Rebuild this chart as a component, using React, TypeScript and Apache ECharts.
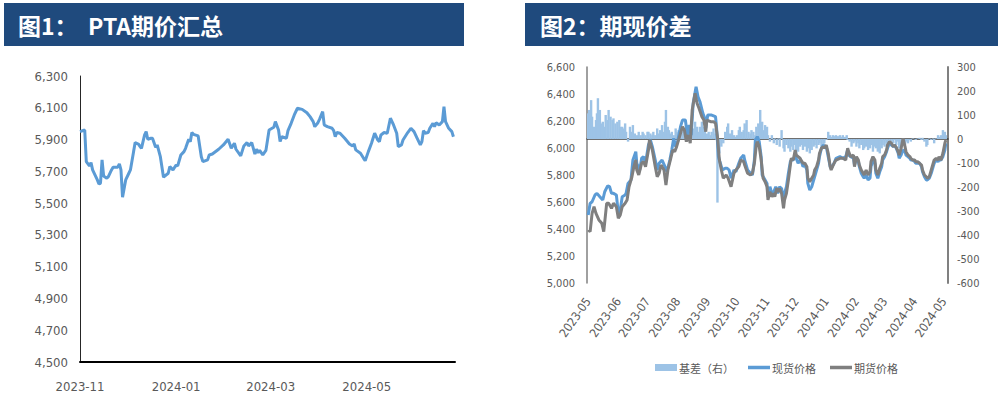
import React, { useEffect, useRef } from "react";
import * as echarts from "echarts";

// ---------- data ----------
// 图1：PTA期价汇总 (left panel)
const ptaFutures: [string, number][] = [
  ['2023-11-01',5950],['2023-11-04',5960],['2023-11-05',5761],['2023-11-07',5734],['2023-11-08',5755],['2023-11-09',5709],['2023-11-12',5646],['2023-11-13',5621],['2023-11-14',5625],['2023-11-15',5772],['2023-11-16',5671],['2023-11-18',5657],['2023-11-19',5667],['2023-11-21',5709],['2023-11-22',5726],['2023-11-25',5726],['2023-11-26',5747],['2023-11-27',5709],['2023-11-28',5537],['2023-11-30',5646],
  ['2023-12-02',5688],['2023-12-03',5709],['2023-12-05',5824],['2023-12-06',5881],['2023-12-08',5872],['2023-12-10',5845],['2023-12-12',5929],['2023-12-13',5950],['2023-12-14',5902],['2023-12-16',5908],['2023-12-17',5908],['2023-12-19',5851],['2023-12-20',5866],['2023-12-22',5792],['2023-12-24',5663],['2023-12-27',5688],['2023-12-28',5730],['2023-12-30',5709],
  ['2024-01-01',5740],['2024-01-02',5734],['2024-01-04',5803],['2024-01-06',5824],['2024-01-07',5845],['2024-01-09',5902],['2024-01-10',5887],['2024-01-11',5944],['2024-01-12',5933],['2024-01-15',5923],['2024-01-17',5792],['2024-01-18',5761],['2024-01-21',5772],['2024-01-22',5803],['2024-01-24',5809],['2024-01-28',5839],['2024-01-31',5866],
  ['2024-02-03',5902],['2024-02-05',5845],['2024-02-07',5877],['2024-02-08',5839],['2024-02-11',5797],['2024-02-13',5860],['2024-02-15',5881],['2024-02-16',5860],['2024-02-18',5881],['2024-02-20',5809],['2024-02-21',5839],['2024-02-22',5818],['2024-02-23',5832],['2024-02-25',5803],['2024-02-27',5832],['2024-02-29',5960],
  ['2024-03-03',5977],['2024-03-04',6013],['2024-03-06',5960],['2024-03-07',5887],['2024-03-08',5918],['2024-03-11',5908],['2024-03-12',5956],['2024-03-14',6002],['2024-03-16',6055],['2024-03-18',6097],['2024-03-21',6090],['2024-03-24',6069],['2024-03-26',6044],['2024-03-28',6013],['2024-03-29',5981],['2024-03-31',6006],
  ['2024-04-01',6027],['2024-04-03',6076],['2024-04-04',5992],['2024-04-06',5981],['2024-04-09',5971],['2024-04-10',5956],['2024-04-11',5918],['2024-04-12',5944],['2024-04-14',5940],['2024-04-17',5908],['2024-04-20',5872],['2024-04-22',5860],['2024-04-23',5872],['2024-04-24',5835],['2024-04-27',5814],['2024-04-29',5782],['2024-04-30',5767],
  ['2024-05-02',5824],['2024-05-04',5877],['2024-05-06',5940],['2024-05-08',5897],['2024-05-09',5887],['2024-05-10',5929],['2024-05-12',5944],['2024-05-14',5940],['2024-05-16',6034],['2024-05-18',5992],['2024-05-20',5940],['2024-05-21',5856],['2024-05-23',5866],['2024-05-24',5897],['2024-05-27',5944],['2024-05-29',5971],['2024-05-31',5950],
  ['2024-06-02',5908],['2024-06-04',5866],['2024-06-05',5887],['2024-06-06',5956],['2024-06-07',5940],['2024-06-09',5944],['2024-06-10',5971],['2024-06-12',6002],['2024-06-13',5981],['2024-06-14',6006],['2024-06-16',5992],['2024-06-18',6013],['2024-06-19',6107],['2024-06-20',6013],['2024-06-22',5971],['2024-06-24',5950],['2024-06-25',5918]
];

// 图2：期现价差 (right panel) — 现货价格
const spotPrice: [string, number][] = [
  ['2023-05-01',5504],['2023-05-03',5590],['2023-05-05',5602],['2023-05-08',5652],['2023-05-10',5664],['2023-05-13',5639],['2023-05-16',5615],['2023-05-18',5676],['2023-05-21',5719],['2023-05-23',5713],['2023-05-25',5664],['2023-05-27',5664],['2023-05-30',5652],
  ['2023-06-01',5516],['2023-06-03',5541],['2023-06-05',5639],['2023-06-08',5652],['2023-06-09',5664],['2023-06-11',5738],['2023-06-14',5763],['2023-06-16',5911],['2023-06-19',5973],['2023-06-20',5887],['2023-06-23',5837],['2023-06-25',5924],['2023-06-27',5936],['2023-06-29',5887],
  ['2023-07-02',6022],['2023-07-04',6059],['2023-07-06',6010],['2023-07-09',5911],['2023-07-11',5837],['2023-07-13',5887],['2023-07-16',5911],['2023-07-19',5862],['2023-07-21',5824],['2023-07-24',5911],['2023-07-26',5985],['2023-07-28',6072],['2023-07-30',6010],
  ['2023-08-01',6047],['2023-08-04',6158],['2023-08-06',6207],['2023-08-09',6207],['2023-08-11',6096],['2023-08-13',6170],['2023-08-15',6096],['2023-08-17',6331],['2023-08-20',6454],['2023-08-22',6380],['2023-08-24',6343],['2023-08-27',6257],['2023-08-29',6220],['2023-08-30',6146],
  ['2023-09-01',6244],['2023-09-05',6244],['2023-09-09',6232],['2023-09-10',6158],['2023-09-12',5936],['2023-09-14',5887],['2023-09-16',5837],['2023-09-19',5850],['2023-09-21',5850],['2023-09-23',5837],['2023-09-25',5776],['2023-09-28',5837],['2023-09-30',5824],
  ['2023-10-03',5887],['2023-10-05',5924],['2023-10-08',5948],['2023-10-09',5911],['2023-10-12',5837],['2023-10-15',5813],['2023-10-17',5800],['2023-10-19',5911],['2023-10-20',6059],['2023-10-22',6084],['2023-10-24',6047],['2023-10-26',5936],['2023-10-27',5800],['2023-10-29',5776],
  ['2023-11-01',5738],['2023-11-02',5639],['2023-11-04',5713],['2023-11-06',5664],['2023-11-08',5676],['2023-11-10',5713],['2023-11-12',5664],['2023-11-14',5713],['2023-11-16',5700],['2023-11-18',5615],['2023-11-19',5664],['2023-11-21',5713],['2023-11-23',5813],['2023-11-25',5899],['2023-11-26',5911],['2023-11-28',5911],['2023-11-30',5948],
  ['2023-12-01',5924],['2023-12-03',5887],['2023-12-05',5911],['2023-12-07',5887],['2023-12-08',5862],['2023-12-10',5874],['2023-12-12',5837],['2023-12-13',5738],['2023-12-15',5689],['2023-12-17',5713],['2023-12-19',5763],['2023-12-20',5787],['2023-12-22',5837],['2023-12-24',5887],['2023-12-25',5936],['2023-12-27',5998],['2023-12-29',6022],['2023-12-30',6010],
  ['2024-01-01',6010],['2024-01-03',5936],['2024-01-05',5862],['2024-01-06',5850],['2024-01-09',5887],['2024-01-11',5924],['2024-01-15',5936],['2024-01-18',5924],['2024-01-21',5936],['2024-01-23',5985],['2024-01-24',5948],['2024-01-26',5936],['2024-01-29',5924],['2024-01-30',5874],
  ['2024-02-01',5924],['2024-02-03',5899],['2024-02-04',5862],['2024-02-06',5813],['2024-02-08',5787],['2024-02-09',5776],['2024-02-11',5800],['2024-02-13',5763],['2024-02-15',5776],['2024-02-16',5862],['2024-02-18',5911],['2024-02-20',5887],['2024-02-21',5813],['2024-02-23',5776],['2024-02-25',5824],['2024-02-27',5862],['2024-02-28',5911],
  ['2024-03-01',5936],['2024-03-03',5973],['2024-03-04',5998],['2024-03-06',6035],['2024-03-08',6022],['2024-03-10',6010],['2024-03-11',6022],['2024-03-13',5998],['2024-03-15',5961],['2024-03-16',5924],['2024-03-18',5948],['2024-03-20',5985],['2024-03-22',5973],['2024-03-23',5948],['2024-03-25',5936],['2024-03-27',5924],['2024-03-28',5911],['2024-03-30',5911],
  ['2024-04-01',5899],['2024-04-02',5887],['2024-04-04',5887],['2024-04-06',5887],['2024-04-08',5862],['2024-04-09',5824],['2024-04-11',5787],['2024-04-13',5763],['2024-04-14',5763],['2024-04-16',5776],['2024-04-18',5813],['2024-04-20',5862],['2024-04-21',5887],['2024-04-23',5911],['2024-04-25',5899],['2024-04-26',5911],['2024-04-28',5911],['2024-04-30',5936],
  ['2024-05-02',5985],['2024-05-03',6035]
];

// 期货价格
const futuresPrice: [string, number][] = [
  ['2023-05-01',5393],['2023-05-03',5380],['2023-05-05',5516],['2023-05-07',5565],['2023-05-09',5516],['2023-05-12',5467],['2023-05-15',5442],['2023-05-17',5380],['2023-05-20',5590],['2023-05-22',5590],['2023-05-25',5553],['2023-05-27',5590],['2023-05-30',5565],
  ['2023-06-01',5479],['2023-06-03',5504],['2023-06-05',5565],['2023-06-08',5590],['2023-06-10',5615],['2023-06-12',5713],['2023-06-15',5787],['2023-06-17',5862],['2023-06-19',5911],['2023-06-20',5837],['2023-06-22',5800],['2023-06-25',5887],['2023-06-27',5899],['2023-06-29',5862],
  ['2023-07-02',5985],['2023-07-03',6059],['2023-07-06',5985],['2023-07-09',5862],['2023-07-11',5787],['2023-07-13',5813],['2023-07-15',5874],['2023-07-18',5837],['2023-07-20',5726],['2023-07-22',5837],['2023-07-25',5924],['2023-07-27',5985],['2023-07-29',5973],['2023-07-31',6010],
  ['2023-08-03',6084],['2023-08-06',6158],['2023-08-08',6133],['2023-08-10',6047],['2023-08-12',6096],['2023-08-14',6035],['2023-08-16',6281],['2023-08-19',6405],['2023-08-21',6331],['2023-08-23',6294],['2023-08-26',6232],['2023-08-28',6207],['2023-08-30',6121],['2023-08-31',6207],
  ['2023-09-04',6195],['2023-09-07',6195],['2023-09-09',6183],['2023-09-11',6084],['2023-09-13',5911],['2023-09-15',5837],['2023-09-17',5776],['2023-09-20',5800],['2023-09-22',5776],['2023-09-25',5713],['2023-09-28',5813],['2023-09-30',5837],
  ['2023-10-03',5862],['2023-10-05',5911],['2023-10-08',5899],['2023-10-09',5874],['2023-10-12',5813],['2023-10-15',5800],['2023-10-17',5813],['2023-10-19',5887],['2023-10-21',6022],['2023-10-22',6047],['2023-10-24',6010],['2023-10-26',5911],['2023-10-28',5776],['2023-10-30',5750],
  ['2023-11-01',5713],['2023-11-02',5615],['2023-11-04',5676],['2023-11-06',5639],['2023-11-08',5664],['2023-11-09',5639],['2023-11-11',5701],['2023-11-13',5676],['2023-11-14',5701],['2023-11-16',5664],['2023-11-18',5553],['2023-11-19',5615],['2023-11-21',5664],['2023-11-23',5763],['2023-11-25',5874],['2023-11-26',5924],['2023-11-28',5911],['2023-11-30',5985],
  ['2023-12-01',5948],['2023-12-03',5936],['2023-12-05',5924],['2023-12-07',5899],['2023-12-08',5887],['2023-12-10',5887],['2023-12-12',5862],['2023-12-13',5776],['2023-12-15',5750],['2023-12-17',5776],['2023-12-19',5800],['2023-12-20',5837],['2023-12-22',5862],['2023-12-24',5911],['2023-12-25',5961],['2023-12-27',5998],['2023-12-29',6010],['2023-12-30',5998],
  ['2024-01-01',6022],['2024-01-03',5961],['2024-01-05',5862],['2024-01-06',5837],['2024-01-09',5887],['2024-01-11',5911],['2024-01-15',5924],['2024-01-18',5924],['2024-01-21',5911],['2024-01-23',5998],['2024-01-24',5973],['2024-01-26',5936],['2024-01-29',5948],['2024-01-30',5862],
  ['2024-02-01',5936],['2024-02-03',5911],['2024-02-04',5874],['2024-02-06',5837],['2024-02-08',5813],['2024-02-09',5800],['2024-02-11',5837],['2024-02-13',5800],['2024-02-15',5824],['2024-02-16',5899],['2024-02-18',5936],['2024-02-20',5911],['2024-02-21',5837],['2024-02-23',5800],['2024-02-25',5850],['2024-02-27',5887],['2024-02-28',5936],
  ['2024-03-01',5948],['2024-03-03',5985],['2024-03-04',6022],['2024-03-06',6047],['2024-03-08',6035],['2024-03-10',6010],['2024-03-11',6022],['2024-03-13',6005],['2024-03-15',5973],['2024-03-16',5948],['2024-03-18',5998],['2024-03-20',6072],['2024-03-22',6010],['2024-03-23',5973],['2024-03-25',5948],['2024-03-27',5936],['2024-03-28',5924],['2024-03-30',5911],
  ['2024-04-01',5911],['2024-04-02',5899],['2024-04-04',5899],['2024-04-06',5887],['2024-04-08',5874],['2024-04-09',5837],['2024-04-11',5800],['2024-04-13',5787],['2024-04-14',5776],['2024-04-16',5787],['2024-04-18',5837],['2024-04-20',5887],['2024-04-21',5911],['2024-04-23',5924],['2024-04-25',5911],['2024-04-26',5936],['2024-04-28',5911],['2024-04-30',5961],
  ['2024-05-02',6035],['2024-05-03',6059]
];

// 基差（右）
const basis: [string, number][] = [
  ['2023-05-01',107],['2023-05-02',121],['2023-05-04',162],['2023-05-05',93],['2023-05-07',51],['2023-05-09',79],['2023-05-10',107],['2023-05-11',170],['2023-05-13',121],['2023-05-15',65],['2023-05-16',72],['2023-05-18',51],['2023-05-19',100],['2023-05-21',79],['2023-05-22',121],['2023-05-24',93],['2023-05-26',79],['2023-05-27',86],['2023-05-29',65],['2023-05-31',72],
  ['2023-06-02',79],['2023-06-03',51],['2023-06-05',51],['2023-06-07',44],['2023-06-08',65],['2023-06-09',30],['2023-06-11',-11],['2023-06-13',51],['2023-06-15',30],['2023-06-16',58],['2023-06-18',23],['2023-06-20',16],['2023-06-22',30],['2023-06-24',16],['2023-06-26',30],['2023-06-27',23],['2023-06-29',16],
  ['2023-07-01',30],['2023-07-02',30],['2023-07-04',23],['2023-07-06',16],['2023-07-07',30],['2023-07-09',16],['2023-07-11',44],['2023-07-13',23],['2023-07-14',37],['2023-07-16',58],['2023-07-18',30],['2023-07-19',72],['2023-07-20',121],['2023-07-22',51],['2023-07-23',37],['2023-07-25',23],['2023-07-26',30],['2023-07-28',16],['2023-07-30',44],['2023-07-31',30],
  ['2023-08-02',37],['2023-08-04',51],['2023-08-06',30],['2023-08-07',37],['2023-08-09',23],['2023-08-11',44],['2023-08-12',30],['2023-08-14',58],['2023-08-16',30],['2023-08-17',44],['2023-08-19',72],['2023-08-21',51],['2023-08-23',30],['2023-08-24',51],['2023-08-26',72],['2023-08-28',51],['2023-08-29',44],['2023-08-31',23],
  ['2023-09-02',30],['2023-09-04',16],['2023-09-05',30],['2023-09-07',44],['2023-09-09',23],['2023-09-10',-4],['2023-09-11',-265],['2023-09-13',-60],['2023-09-15',-32],['2023-09-17',-18],['2023-09-19',30],['2023-09-21',51],['2023-09-22',65],['2023-09-24',23],['2023-09-26',37],['2023-09-28',16],['2023-09-29',9],
  ['2023-10-01',16],['2023-10-03',37],['2023-10-04',51],['2023-10-06',30],['2023-10-08',37],['2023-10-09',65],['2023-10-11',79],['2023-10-13',30],['2023-10-15',23],['2023-10-16',37],['2023-10-18',30],['2023-10-20',16],['2023-10-21',51],['2023-10-23',65],['2023-10-25',121],['2023-10-26',58],['2023-10-27',72],['2023-10-28',37],['2023-10-30',58],
  ['2023-11-01',51],['2023-11-02',16],['2023-11-04',-11],['2023-11-06',16],['2023-11-08',-18],['2023-11-09',2],['2023-11-11',-25],['2023-11-13',2],['2023-11-14',-32],['2023-11-16',37],['2023-11-18',-39],['2023-11-19',-53],['2023-11-21',-25],['2023-11-23',-39],['2023-11-25',-53],['2023-11-26',-32],['2023-11-28',-46],['2023-11-30',-25],
  ['2023-12-01',-74],['2023-12-03',-53],['2023-12-05',-32],['2023-12-07',-25],['2023-12-08',-46],['2023-12-10',-32],['2023-12-12',-53],['2023-12-13',-39],['2023-12-15',-60],['2023-12-17',-46],['2023-12-19',-32],['2023-12-20',-25],['2023-12-22',-39],['2023-12-24',-25],['2023-12-25',-18],['2023-12-27',-32],['2023-12-29',-25],['2023-12-30',-18],
  ['2024-01-01',-4],['2024-01-03',30],['2024-01-05',16],['2024-01-06',9],['2024-01-08',16],['2024-01-10',12],['2024-01-11',16],['2024-01-13',12],['2024-01-15',16],['2024-01-17',9],['2024-01-18',16],['2024-01-20',9],['2024-01-22',16],['2024-01-23',-4],['2024-01-25',-11],['2024-01-27',-32],['2024-01-29',-18],['2024-01-30',-11],
  ['2024-02-01',-32],['2024-02-03',-18],['2024-02-04',-39],['2024-02-06',-25],['2024-02-08',-46],['2024-02-09',-39],['2024-02-11',-32],['2024-02-13',-46],['2024-02-15',-39],['2024-02-16',-25],['2024-02-18',-53],['2024-02-20',-32],['2024-02-21',-39],['2024-02-23',-53],['2024-02-25',-60],['2024-02-27',-39],['2024-02-28',-25],
  ['2024-03-01',-32],['2024-03-03',-18],['2024-03-04',-25],['2024-03-06',-18],['2024-03-08',-11],['2024-03-10',-18],['2024-03-11',-4],['2024-03-13',-25],['2024-03-15',-11],['2024-03-16',-39],['2024-03-18',-46],['2024-03-20',-4],['2024-03-22',-25],['2024-03-23',-11],['2024-03-25',-18],['2024-03-27',-4],['2024-03-28',-11],['2024-03-30',2],
  ['2024-04-01',0],['2024-04-02',-4],['2024-04-04',2],['2024-04-06',5],['2024-04-08',-4],['2024-04-09',5],['2024-04-11',-11],['2024-04-13',-32],['2024-04-14',-25],['2024-04-16',2],['2024-04-18',-4],['2024-04-20',2],['2024-04-21',-18],['2024-04-23',2],['2024-04-25',16],['2024-04-26',9],['2024-04-28',16],['2024-04-30',37],
  ['2024-05-02',30],['2024-05-03',16]
];

const titles = ["图1：  PTA期价汇总", "图2：期现价差"];
const seriesNames = ["基差（右）", "现货价格", "期货价格"];

// ---------- styling ----------
const NARROW = '"Liberation Sans Narrow", "DejaVu Sans Condensed", "Arial Narrow", "Liberation Sans", sans-serif';
const CJK = '"Noto Sans CJK SC", "Noto Sans", sans-serif';
const LABEL = "#595959";
const HEADER = "#1F4A7D";
const LINE_ICON = "path://M0,0H22V3.5H0Z";

const ym = (v: number) => {
  const d = new Date(v);
  return `${d.getFullYear()}-${String(d.getMonth() + 1).padStart(2, "0")}`;
};

export default function App() {
  const ref = useRef<HTMLDivElement>(null);
  useEffect(() => {
    if (!ref.current) return;
    const chart = echarts.init(ref.current, undefined, { renderer: "svg" });
    chart.setOption({
      animation: false,
      backgroundColor: "#ffffff",
      graphic: [
        { type: "rect", shape: { x: 4, y: 3, width: 460, height: 43 }, style: { fill: HEADER } },
        { type: "text", x: 18, y: 25, style: { text: titles[0], fill: "#ffffff", fontSize: 23, fontWeight: "bold", fontFamily: CJK, verticalAlign: "middle" } },
        { type: "rect", shape: { x: 525, y: 3, width: 473, height: 43 }, style: { fill: HEADER } },
        { type: "text", x: 540, y: 25, style: { text: titles[1], fill: "#ffffff", fontSize: 23, fontWeight: "bold", fontFamily: CJK, verticalAlign: "middle" } },
      ],
      grid: [
        { left: 80, top: 76, width: 375, height: 286 },
        { left: 587, top: 67, width: 361, height: 216 },
      ],
      legend: {
        left: 650,
        top: 357,
        itemWidth: 22,
        itemHeight: 7,
        itemGap: 14,
        symbolKeepAspect: true,
        data: [
          { name: seriesNames[0], icon: "rect" },
          { name: seriesNames[1], icon: LINE_ICON },
          { name: seriesNames[2], icon: LINE_ICON },
        ],
        textStyle: { color: LABEL, fontSize: 11, fontFamily: CJK, padding: [0, 0, 0, -3] },
      },
      xAxis: [
        {
          type: "time",
          gridIndex: 0,
          min: +new Date(2023, 10, 1),
          max: +new Date(2024, 5, 26),
          splitNumber: 8,
          axisLine: { lineStyle: { color: "#000000", width: 2 } },
          axisTick: { show: false },
          splitLine: { show: false },
          axisLabel: {
            color: LABEL,
            fontSize: 13,
            fontFamily: NARROW,
            margin: 18,
            hideOverlap: false,
            formatter: (v: number) => {
              const d = new Date(v);
              return d.getDate() === 1 && d.getMonth() % 2 === 0 ? ym(v) : "";
            },
          },
        },
        {
          type: "time",
          gridIndex: 1,
          min: +new Date(2023, 4, 1),
          max: +new Date(2024, 4, 4),
          splitNumber: 12,
          axisLine: { lineStyle: { color: "#404040", width: 1.5 } },
          axisTick: { show: false },
          splitLine: { show: false },
          axisLabel: {
            color: LABEL,
            fontSize: 12,
            fontFamily: NARROW,
            rotate: 55,
            margin: 16,
            hideOverlap: false,
            formatter: (v: number) => (new Date(v).getDate() === 1 ? ym(v) : ""),
          },
        },
      ],
      yAxis: [
        {
          type: "value",
          gridIndex: 0,
          min: 4500,
          max: 6300,
          interval: 200,
          axisLine: { show: true, lineStyle: { color: "#262626", width: 1 } },
          axisTick: { show: false },
          splitLine: { show: false },
          axisLabel: { color: LABEL, fontSize: 13, fontFamily: NARROW, margin: 12 },
        },
        {
          type: "value",
          gridIndex: 1,
          min: 5000,
          max: 6600,
          interval: 200,
          axisLine: { show: true, lineStyle: { color: "#808080", width: 1.5 } },
          axisTick: { show: false },
          splitLine: { show: false },
          axisLabel: { color: LABEL, fontSize: 11, fontFamily: NARROW, margin: 12 },
        },
        {
          type: "value",
          gridIndex: 1,
          position: "right",
          min: -600,
          max: 300,
          interval: 100,
          axisLine: { show: true, lineStyle: { color: "#808080", width: 2 } },
          axisTick: { show: false },
          splitLine: { show: false },
          axisLabel: { color: LABEL, fontSize: 11, fontFamily: NARROW, margin: 9 },
        },
      ],
      series: [
        {
          type: "line",
          name: "PTA期价",
          xAxisIndex: 0,
          yAxisIndex: 0,
          data: ptaFutures,
          symbol: "none",
          lineStyle: { color: "#5B9BD5", width: 3 },
          itemStyle: { color: "#5B9BD5" },
        },
        {
          type: "bar",
          name: seriesNames[0],
          xAxisIndex: 1,
          yAxisIndex: 2,
          data: basis,
          barWidth: 2.4,
          itemStyle: { color: "#9DC3E6" },
        },
        {
          type: "line",
          name: seriesNames[1],
          xAxisIndex: 1,
          yAxisIndex: 1,
          data: spotPrice,
          symbol: "none",
          lineStyle: { color: "#5B9BD5", width: 3 },
          itemStyle: { color: "#5B9BD5" },
        },
        {
          type: "line",
          name: seriesNames[2],
          xAxisIndex: 1,
          yAxisIndex: 1,
          data: futuresPrice,
          symbol: "none",
          lineStyle: { color: "#7F7F7F", width: 3 },
          itemStyle: { color: "#7F7F7F" },
        },
      ],
    });
    return () => chart.dispose();
  }, []);
  return (
    <div
      ref={ref}
      style={{ position: "absolute", left: 0, top: 0, width: 998, height: 403, background: "#ffffff" }}
    />
  );
}
